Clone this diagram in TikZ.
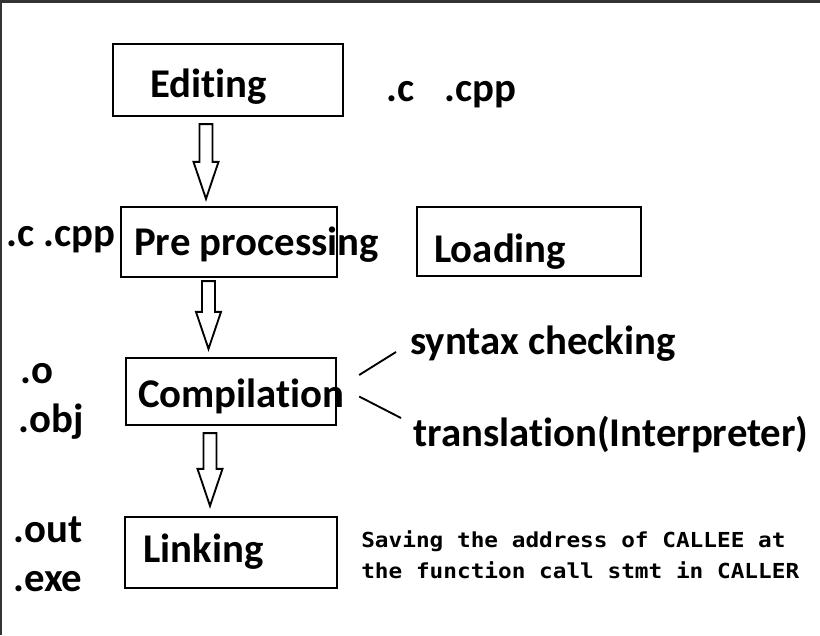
\documentclass[tikz,border=0pt]{standalone}
\usepackage{fontspec}
\setmainfont{Carlito}[Ligatures=NoCommon]
\newfontfamily\codefont[FakeStretch=1.1]{DejaVu Sans Mono}
\usetikzlibrary{calc}

% hollow block arrow from tail point #1 down to tip point #2
\newcommand\hollowarrow[2]{%
  \draw[blockarrow] ($(#1)+(-6.5,0)$) -- ($(#1)+(6.5,0)$) -- ($(#2)+(6.5,-37)$) -- ($(#2)+(12.5,-37)$)
    -- (#2) -- ($(#2)+(-12.5,-37)$) -- ($(#2)+(-6.5,-37)$) -- cycle;}

\begin{document}
\begin{tikzpicture}[x=0.75pt, y=-0.75pt,
  stage/.style={draw, line width=1.7pt, inner sep=0pt},
  lbl/.style={anchor=base west, inner sep=0pt, font=\fontsize{30.6}{36}\selectfont\bfseries},
  code/.style={anchor=base west, inner sep=0pt, font=\codefont\fontsize{15.5}{23}\selectfont\bfseries},
  blockarrow/.style={draw, line width=1.4pt, fill=white, line join=miter},
  branch/.style={line width=1.4pt}]
  \useasboundingbox (0,0) rectangle (820,635);
  % screen edge
  \fill[black!80] (0,0) rectangle (820,3);
  \fill[black!80] (0,0) rectangle (2,635);
  % stages
  \node[stage, minimum width=172.5pt, minimum height=54pt] (edit) at (228,80) {};
  \node[stage, minimum width=162pt, minimum height=52.5pt] (pre) at (229,242) {};
  \node[stage, minimum width=168pt, minimum height=51.75pt] (load) at (529,241.5) {};
  \node[stage, minimum width=157.5pt, minimum height=50.25pt] (comp) at (231,391.5) {};
  \node[stage, minimum width=159pt, minimum height=53.25pt] (link) at (231,552.5) {};
  \node[lbl] (editlbl) at (150,97) {Editing};
  \node[lbl] (prelbl) at (134,255) {Pre processing};
  \node[lbl] (loadlbl) at (434,262) {Loading};
  \node[lbl] (complbl) at (138,407) {Compilation};
  \node[lbl] (linklbl) at (143,562) {Linking};
  % file extensions
  \node[lbl] (extsrc) at (386,101) {.c\hspace{0.75em}.cpp};
  \node[lbl] (extpre) at (6,246) {.c .cpp};
  \node[lbl] (exto) at (20,383) {.o};
  \node[lbl] (extobj) at (18,432) {.obj};
  \node[lbl] (extout) at (13,542) {.out};
  \node[lbl] (extexe) at (13,591) {.exe};
  % arrows
  \coordinate (t1) at ($(edit.south)+(-22,7)$);
  \coordinate (p1) at ($(t1 |- pre.north)+(0,-7)$);
  \coordinate (t2) at ($(pre.south)+(-20.5,3)$);
  \coordinate (p2) at ($(t2 |- comp.north)+(0,-8)$);
  \coordinate (t3) at ($(comp.south)+(-21,7)$);
  \coordinate (p3) at ($(t3 |- link.north)+(0,-10)$);
  \hollowarrow{t1}{p1}
  \hollowarrow{t2}{p2}
  \hollowarrow{t3}{p3}
  % compilation steps
  \node[lbl] (syntax) at (410,354) {syntax checking};
  \node[lbl] (transl) at (413,446) {translation(Interpreter)};
  \coordinate (b1) at ($(comp.east)+(22,-16.5)$);
  \coordinate (b2) at ($(comp.east)+(22,5)$);
  \draw[branch] (b1) -- ($(syntax.base west)+(-14,-2)$);
  \draw[branch] (b2) -- ($(transl.base west)+(-12,-28)$);
  % linking note
  \node[code] (note1) at (361,547) {Saving the address of CALLEE at};
  \node[code] (note2) at (361,578) {the function call stmt in CALLER};
\end{tikzpicture}
\end{document}
